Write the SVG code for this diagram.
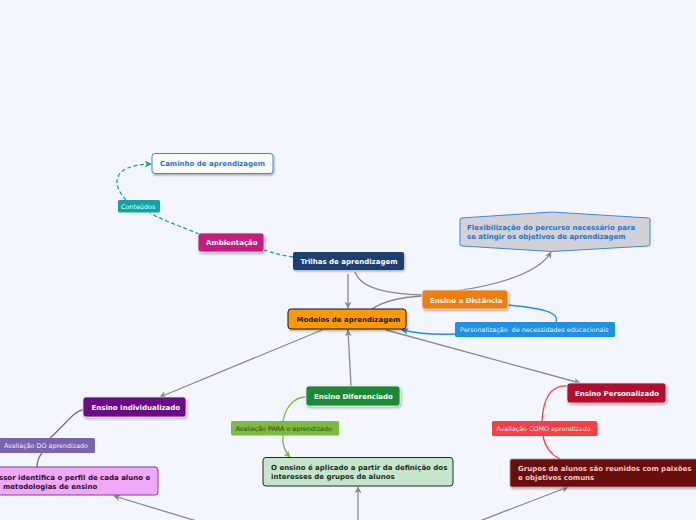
<svg xmlns="http://www.w3.org/2000/svg" width="696" height="520" viewBox="0 0 696 520">
<style>
text{font-family:"DejaVu Sans","Verdana",sans-serif;}
.b{font-weight:bold;font-size:7px;}
.l{font-size:6.4px;white-space:pre;}
.g{fill:none;stroke:#8a8a8e;stroke-width:1.3;}
</style>
<defs>
<filter id="sh" x="-10%" y="-20%" width="120%" height="150%"><feDropShadow dx="1" dy="1.5" stdDeviation="0.8" flood-color="#000" flood-opacity="0.3"/></filter>
<marker id="ag" viewBox="0 0 10 10" refX="9" refY="5" markerWidth="7" markerHeight="7" orient="auto" markerUnits="userSpaceOnUse"><path d="M0,0L10,5L0,10L3,5z" fill="#8a8a8e"/></marker>
<marker id="at" viewBox="0 0 10 10" refX="9" refY="5" markerWidth="7" markerHeight="7" orient="auto" markerUnits="userSpaceOnUse"><path d="M0,0L10,5L0,10L3,5z" fill="#10a5a0"/></marker>
<marker id="ab" viewBox="0 0 10 10" refX="9" refY="5" markerWidth="7" markerHeight="7" orient="auto" markerUnits="userSpaceOnUse"><path d="M0,0L10,5L0,10L3,5z" fill="#1e90e6"/></marker>
<marker id="agr" viewBox="0 0 10 10" refX="9" refY="5" markerWidth="7" markerHeight="7" orient="auto" markerUnits="userSpaceOnUse"><path d="M0,0L10,5L0,10L3,5z" fill="#7cbb40"/></marker>
</defs>
<rect width="696" height="520" fill="#f3f6fe"/>

<g id="connectors">
<path class="g" d="M348,274 L348,308" marker-end="url(#ag)"/>
<path class="g" d="M355,272 C362,292 400,294 422,295"/>
<path class="g" d="M372,309 C385,300 405,297 422,296"/>
<path class="g" d="M455,291 C500,285 540,272 551,252" marker-end="url(#ag)"/>
<path class="g" d="M322,330 L160,397" marker-end="url(#ag)"/>
<path class="g" d="M351,386 L348,330" marker-end="url(#ag)"/>
<path class="g" d="M386,330 L580,383" marker-end="url(#ag)"/>
<path class="g" d="M200,522 L114,496" marker-end="url(#ag)"/>
<path class="g" d="M358,522 L358,487" marker-end="url(#ag)"/>
<path class="g" d="M477,522 L568,487" marker-end="url(#ag)"/>
<path fill="none" stroke="#1e90e6" stroke-width="1.3" d="M508,305 C540,308 560,312 556,322"/>
<path fill="none" stroke="#1e90e6" stroke-width="1.3" d="M455,334 C430,335 415,333 402,330" marker-end="url(#ab)"/>
<path fill="none" stroke="#10a5a0" stroke-width="1.3" stroke-dasharray="4,2.5" d="M293,257 C280,255 270,252 264,250"/>
<path fill="none" stroke="#10a5a0" stroke-width="1.3" stroke-dasharray="4,2.5" d="M199,234 C185,228 162,220 150,213"/>
<path fill="none" stroke="#10a5a0" stroke-width="1.3" stroke-dasharray="4,2.5" d="M126,200 C112,185 110,165 151,164" marker-end="url(#at)"/>
<path fill="none" stroke="#7a64b0" stroke-width="1.3" d="M83,410 C75,410 65,425 50,438"/>
<path fill="none" stroke="#7a64b0" stroke-width="1.3" d="M42,453 C38,458 37,462 37,467"/>
<path fill="none" stroke="#7cbb40" stroke-width="1.3" d="M306,397 C292,397 285,410 283,421"/>
<path fill="none" stroke="#7cbb40" stroke-width="1.3" d="M283,435 C282,445 285,452 290,457" marker-end="url(#agr)"/>
<path fill="none" stroke="#ff3c45" stroke-width="1.3" d="M567,386 C550,385 543,400 542,421"/>
<path fill="none" stroke="#ff3c45" stroke-width="1.3" d="M543,436 C545,447 552,455 560,459"/>
</g>

<g id="caminho">
<rect x="152" y="153.5" width="121" height="20" rx="3" fill="#ffffff" stroke="#3a88e6" stroke-width="1" filter="url(#sh)"/>
<text class="b" x="160" y="166" fill="#1f74d8">Caminho de aprendizagem</text>
</g>
<g id="conteudos">
<rect x="118" y="200" width="42" height="12.5" rx="1.5" fill="#10a5a0"/>
<text class="l" x="121" y="208.5" fill="#e8fffd">Conteúdos</text>
</g>
<g id="ambientacao">
<rect x="198" y="233" width="66" height="19" rx="3" fill="#c81a7c" stroke="#e8e8ee" stroke-width="0.8" filter="url(#sh)"/>
<text class="b" x="206" y="245" fill="#ffffff">Ambientação</text>
</g>
<g id="trilhas">
<rect x="293" y="252" width="111" height="18" rx="2" fill="#1c3f72" filter="url(#sh)"/>
<text class="b" x="300.5" y="264" fill="#ffffff">Trilhas de aprendizagem</text>
</g>
<g id="flexibilizacao">
<path d="M461,218 L552,212 L649,218 Q651,219 650,222 L650,244 Q650,246 648,246 L552,251.5 L462,246 Q460,246 460,244 L460,220 Q460,218 461,218 Z" fill="#d1d1d6" stroke="#3a88e6" stroke-width="1"/>
<text class="b" x="467" y="230" fill="#1f74d8">Flexibilização do percurso necessário para</text>
<text class="b" x="467" y="238.5" fill="#1f74d8">se atingir os objetivos de aprendizagem</text>
</g>
<g id="distancia">
<rect x="422" y="290" width="86" height="19" rx="3" fill="#f07d10" stroke="#f8e8d8" stroke-width="0.8" filter="url(#sh)"/>
<text class="b" x="430" y="302.5" fill="#ffffff">Ensino a Distância</text>
</g>
<g id="personalizacao">
<rect x="455" y="322" width="160" height="15" rx="1.5" fill="#1e90e6"/>
<text class="l" x="460" y="332" fill="#e8f4ff" xml:space="preserve">Personalização  de necessidades educacionais</text>
</g>
<g id="modelos">
<rect x="288" y="309" width="118" height="20" rx="3" fill="#ff9900" stroke="#1a1a1a" stroke-width="1" filter="url(#sh)"/>
<text class="b" x="296.5" y="322" fill="#1a1a1a">Modelos de aprendizagem</text>
</g>
<g id="individualizado">
<rect x="83" y="397" width="103" height="20" rx="3" fill="#6a0a84" stroke="#e8e0ee" stroke-width="0.8" filter="url(#sh)"/>
<text class="b" x="91.5" y="410" fill="#ffffff">Ensino Individualizado</text>
</g>
<g id="avaliacao-do">
<rect x="-3" y="438" width="98" height="15" rx="1.5" fill="#7a64b0"/>
<text class="l" x="4" y="448" fill="#f0ecff">Avaliação DO aprendizado</text>
</g>
<g id="professor">
<rect x="-10" y="467" width="168" height="28" rx="3" fill="#f0a8f8" stroke="#8a3c92" stroke-width="1"/>
<text class="b" x="-1" y="479.5" fill="#2a1030">ssor identifica o perfil de cada aluno e</text>
<text class="b" x="3" y="488.5" fill="#2a1030">metodologias de ensino</text>
</g>
<g id="diferenciado">
<rect x="306" y="386" width="94" height="20" rx="3" fill="#1a8a36" stroke="#e0eee4" stroke-width="0.8" filter="url(#sh)"/>
<text class="b" x="314" y="399" fill="#ffffff">Ensino Diferenciado</text>
</g>
<g id="avaliacao-para">
<rect x="231" y="421" width="108" height="14.5" rx="1.5" fill="#7cbb40"/>
<text class="l" x="235.5" y="430.8" fill="#33461a">Avaliação PARA o aprendizado</text>
</g>
<g id="aplicado">
<rect x="263" y="457.5" width="190" height="28.5" rx="3" fill="#c6e6cc" stroke="#1e2a22" stroke-width="1"/>
<text class="b" x="271" y="470" fill="#1e2a22">O ensino é aplicado a partir da definição dos</text>
<text class="b" x="271" y="478.5" fill="#1e2a22">interesses de grupos de alunos</text>
</g>
<g id="personalizado">
<rect x="567" y="383" width="99" height="20" rx="3" fill="#b50a2e" stroke="#eedde2" stroke-width="0.8" filter="url(#sh)"/>
<text class="b" x="575" y="396" fill="#ffffff">Ensino Personalizado</text>
</g>
<g id="avaliacao-como">
<rect x="492" y="421" width="105" height="15" rx="1.5" fill="#ff3c45"/>
<text class="l" x="496.5" y="431" fill="#fff0f0">Avaliação COMO aprendizado</text>
</g>
<g id="grupos">
<rect x="510" y="459" width="192" height="28" rx="2" fill="#6b0a0a" stroke="#c89090" stroke-width="0.8" filter="url(#sh)"/>
<text class="b" x="518" y="471" fill="#f0c8c8">Grupos de alunos são reunidos com paixões</text>
<text class="b" x="518" y="480" fill="#f0c8c8">e objetivos comuns</text>
</g>
</svg>
